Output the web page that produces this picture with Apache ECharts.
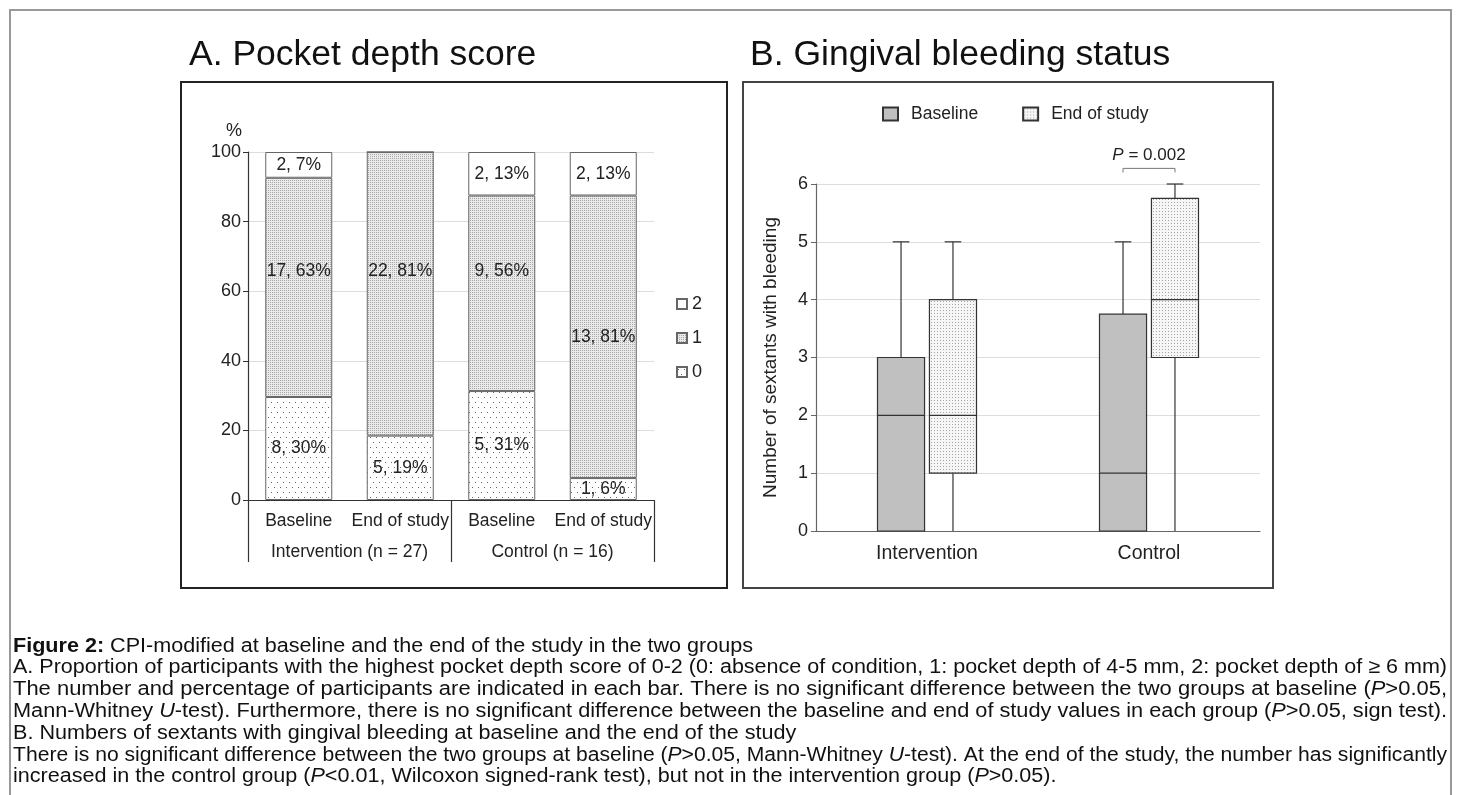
<!DOCTYPE html>
<html><head><meta charset="utf-8">
<script src="https://cdn.jsdelivr.net/npm/echarts@6.0.0/dist/echarts.min.js"></script>
<style>html,body{margin:0;padding:0;background:#fff}#c{width:1458px;height:795px}</style>
</head><body><div id="c"></div>
<script>
// ---------- Panel A data (pocket depth score, % of participants) ----------
const barCategories = ['Baseline', 'End of study', 'Baseline', 'End of study'];
const groupLabels = ['Intervention (n = 27)', 'Control (n = 16)'];
const score0 = [29.6, 18.5, 31.3, 6.3];
const score1 = [63.0, 81.5, 56.2, 81.2];
const score2 = [7.4, 0, 12.5, 12.5];
const count0 = [8, 5, 5, 1];
const pct0 = [30, 19, 31, 6];
const count1 = [17, 22, 9, 13];
const pct1 = [63, 81, 56, 81];
const count2 = [2, 0, 2, 2];
const pct2 = [7, 0, 13, 13];
const scoreNames = ['0', '1', '2'];
// ---------- Panel B data (sextants with bleeding): [min, Q1, median, Q3, max] ----------
const boxCategories = ['Intervention', 'Control'];
const baselineBox = [[0, 0, 2, 3, 5], [0, 0, 1, 3.75, 5]];
const endBox = [[0, 1, 2, 4, 5], [0, 3, 4, 5.75, 6]];
const boxSeriesNames = ['Baseline', 'End of study'];
const pText = 'P = 0.002';
const pGroupIndex = 1;

// layout-only tweak: vertical label shifts (px) of the score-1 labels, as placed in the original
const score1LabelShift = [-16, -23, -22, 0];

const FONT = '"Liberation Sans", Arial, Helvetica, sans-serif';

function makePattern(w, h, bg, dots, dotColor) {
  const cv = document.createElement('canvas');
  cv.width = w; cv.height = h;
  const ctx = cv.getContext('2d');
  ctx.fillStyle = bg; ctx.fillRect(0, 0, w, h);
  ctx.fillStyle = dotColor;
  dots.forEach(d => ctx.fillRect(d[0], d[1], 1, 1));
  return { image: cv, repeat: 'repeat' };
}
const pat0 = makePattern(6, 10, '#ffffff', [[1, 2], [4, 7]], '#666666');
const pat1 = makePattern(2, 2, '#eaeaea', [[0, 0]], '#a8a8a8');
const patEnd = makePattern(3, 3, '#f6f6f6', [[1, 1]], '#a4a4a4');

function labelFmt(counts, pcts) {
  return p => counts[p.dataIndex] ? counts[p.dataIndex] + ', ' + pcts[p.dataIndex] + '%' : '';
}
function barSeries(name, data, color, counts, pcts, shifts) {
  return {
    type: 'bar', name: name, stack: 'a', xAxisIndex: 0, yAxisIndex: 0,
    data: shifts ? data.map((v, i) => ({ value: v, label: { offset: [0, shifts[i]] } })) : data,
    barWidth: 67,
    itemStyle: { color: color, borderColor: '#666', borderWidth: 1 },
    label: { show: true, position: 'inside', fontSize: 17.5, color: '#222', fontFamily: FONT,
      formatter: labelFmt(counts, pcts) },
    emphasis: { disabled: true }
  };
}

function boxRender(side, fill) {
  return function (params, api) {
    const ci = api.value(0);
    const band = api.size([1, 0])[0];
    const cx = api.coord([ci, 0])[0] + side * band * 0.117;
    const bw = band * 0.212, cw = band * 0.075;
    const y = k => api.coord([ci, api.value(k)])[1];
    const yMin = y(1), yQ1 = y(2), yMed = y(3), yQ3 = y(4), yMax = y(5);
    const ls = { stroke: '#333', lineWidth: 1.2 };
    return { type: 'group', children: [
      { type: 'line', shape: { x1: cx, y1: yQ3, x2: cx, y2: yMax }, style: ls },
      { type: 'line', shape: { x1: cx - cw / 2, y1: yMax, x2: cx + cw / 2, y2: yMax }, style: ls },
      { type: 'line', shape: { x1: cx, y1: yQ1, x2: cx, y2: yMin }, style: ls },
      { type: 'rect', shape: { x: cx - bw / 2, y: yQ3, width: bw, height: yQ1 - yQ3 },
        style: { fill: fill, stroke: '#333', lineWidth: 1.2 } },
      { type: 'line', shape: { x1: cx - bw / 2, y1: yMed, x2: cx + bw / 2, y2: yMed }, style: ls }
    ]};
  };
}

// ---------- caption ----------
const CAP_SIZE = 20;
const captionLines = [
  [['b', 'Figure 2:'], ['n', ' CPI-modified at baseline and the end of the study in the two groups']],
  [['n', 'A. Proportion of participants with the highest pocket depth score of 0-2 (0: absence of condition, 1: pocket depth of 4-5 mm, 2: pocket depth of \u2265 6 mm)']],
  [['n', 'The number and percentage of participants are indicated in each bar. There is no significant difference between the two groups at baseline ('], ['i', 'P'], ['n', '>0.05,']],
  [['n', 'Mann-Whitney '], ['i', 'U'], ['n', '-test). Furthermore, there is no significant difference between the baseline and end of study values in each group ('], ['i', 'P'], ['n', '>0.05, sign test).']],
  [['n', 'B. Numbers of sextants with gingival bleeding at baseline and the end of the study']],
  [['n', 'There is no significant difference between the two groups at baseline ('], ['i', 'P'], ['n', '>0.05, Mann-Whitney '], ['i', 'U'], ['n', '-test). At the end of the study, the number has significantly']],
  [['n', 'increased in the control group ('], ['i', 'P'], ['n', '<0.01, Wilcoxon signed-rank test), but not in the intervention group ('], ['i', 'P'], ['n', '>0.05).']]
];
const justified = [false, true, true, true, false, true, false];
const mctx = document.createElement('canvas').getContext('2d');
function segWidth(seg) {
  const st = seg[0] === 'b' ? 'bold ' : seg[0] === 'i' ? 'italic ' : '';
  mctx.font = st + CAP_SIZE + 'px "Liberation Sans"';
  return mctx.measureText(seg[1]).width;
}
const capLeft = 13, capRight = 1447;
const widths = captionLines.map(l => l.reduce((s, g) => s + segWidth(g), 0));
let sc = 0, nj = 0;
widths.forEach((w, i) => { if (justified[i]) { sc += (capRight - capLeft) / w; nj++; } });
const avgScale = sc / nj;
const capRich = {
  n: { fontSize: CAP_SIZE, fontFamily: FONT, color: '#111' },
  b: { fontSize: CAP_SIZE, fontFamily: FONT, color: '#111', fontWeight: 'bold' },
  i: { fontSize: CAP_SIZE, fontFamily: FONT, color: '#111', fontStyle: 'italic' }
};
const captionGraphics = captionLines.map((l, i) => ({
  type: 'text', x: capLeft, y: 646 + 21.8 * i,
  scaleX: justified[i] ? (capRight - capLeft) / widths[i] : avgScale,
  style: { text: l.map(g => '{' + g[0] + '|' + g[1] + '}').join(''), rich: capRich,
    fontSize: CAP_SIZE, fontFamily: FONT, fill: '#111', align: 'left', verticalAlign: 'middle' }
}));

const chart = echarts.init(document.getElementById('c'), null, { renderer: 'canvas' });
const option = {
  animation: false,
  backgroundColor: '#fff',
  textStyle: { fontFamily: FONT },
  grid: [
    { left: 248, top: 152, width: 406, height: 348 },
    { left: 816, top: 184, width: 444, height: 347 }
  ],
  legend: [
    { data: ['2', '1', '0'], orient: 'vertical', left: 671, top: 290, itemWidth: 10, itemHeight: 10,
      itemGap: 16, selectedMode: false, icon: 'rect',
      textStyle: { fontSize: 18, color: '#222', fontFamily: FONT } },
    { data: boxSeriesNames, left: 877, top: 100, itemWidth: 15, itemHeight: 13, itemGap: 44,
      selectedMode: false, icon: 'rect',
      textStyle: { fontSize: 17.5, color: '#222', fontFamily: FONT, padding: [0, 0, 0, 8] } }
  ],
  xAxis: [
    { type: 'category', gridIndex: 0, data: barCategories,
      axisLine: { lineStyle: { color: '#333', width: 1.2 } }, axisTick: { show: false },
      axisLabel: { interval: 0, margin: 12, fontSize: 17.5, color: '#222', fontFamily: FONT } },
    { type: 'category', gridIndex: 0, data: groupLabels, position: 'bottom',
      axisLine: { show: false },
      axisTick: { show: true, length: 62, lineStyle: { color: '#333', width: 1.2 } },
      axisLabel: { interval: 0, margin: 43, fontSize: 17.5, color: '#222', fontFamily: FONT } },
    { type: 'category', gridIndex: 1, data: boxCategories,
      axisLine: { lineStyle: { color: '#666', width: 1.2 } }, axisTick: { show: false },
      axisLabel: { margin: 13, fontSize: 19.5, color: '#222', fontFamily: FONT } }
  ],
  yAxis: [
    { type: 'value', gridIndex: 0, min: 0, max: 100, interval: 20,
      name: '%', nameLocation: 'end', nameGap: 12,
      nameTextStyle: { fontSize: 18, color: '#222', align: 'right', padding: [0, 6, 0, 0], fontFamily: FONT },
      axisLine: { show: true, lineStyle: { color: '#333', width: 1.2 } },
      axisTick: { show: true, length: 5, lineStyle: { color: '#333' } },
      axisLabel: { fontSize: 18, color: '#222', margin: 7, fontFamily: FONT },
      splitLine: { lineStyle: { color: '#dddddd' } } },
    { type: 'value', gridIndex: 1, min: 0, max: 6, interval: 1,
      name: 'Number of sextants with bleeding', nameLocation: 'middle', nameGap: 36, nameRotate: 90,
      nameTextStyle: { fontSize: 19, color: '#222', fontFamily: FONT },
      axisLine: { show: true, lineStyle: { color: '#666', width: 1.2 } },
      axisTick: { show: true, length: 5, lineStyle: { color: '#666' } },
      axisLabel: { fontSize: 18, color: '#222', margin: 8, fontFamily: FONT },
      splitLine: { lineStyle: { color: '#dddddd' } } }
  ],
  series: [
    barSeries(scoreNames[0], score0, pat0, count0, pct0),
    barSeries(scoreNames[1], score1, pat1, count1, pct1, score1LabelShift),
    barSeries(scoreNames[2], score2, '#ffffff', count2, pct2),
    { type: 'custom', name: boxSeriesNames[0], xAxisIndex: 2, yAxisIndex: 1,
      itemStyle: { color: '#c0c0c0', borderColor: '#333', borderWidth: 1 },
      encode: { x: 0, y: [1, 2, 3, 4, 5] },
      data: baselineBox.map((b, i) => [i].concat(b)), renderItem: boxRender(-1, '#c0c0c0') },
    { type: 'custom', name: boxSeriesNames[1], xAxisIndex: 2, yAxisIndex: 1,
      itemStyle: { color: patEnd, borderColor: '#333', borderWidth: 1 },
      encode: { x: 0, y: [1, 2, 3, 4, 5] },
      data: endBox.map((b, i) => [i].concat(b)), renderItem: boxRender(1, patEnd) },
    { type: 'custom', name: 'annotation', xAxisIndex: 2, yAxisIndex: 1, clip: false, silent: true,
      data: [[pGroupIndex, 6.27, 6.5]],
      renderItem: function (params, api) {
        const ci = api.value(0), band = api.size([1, 0])[0];
        const c = api.coord([ci, api.value(1)]);
        const xl = c[0] - band * 0.117, xr = c[0] + band * 0.117, yb = c[1];
        const yt = api.coord([ci, api.value(2)])[1];
        return { type: 'group', children: [
          { type: 'polyline', shape: { points: [[xl, yb + 4], [xl, yb], [xr, yb], [xr, yb + 4]] },
            style: { stroke: '#777', fill: null, lineWidth: 1 } },
          { type: 'text', x: c[0], y: yt,
            style: { text: '{i|' + pText.charAt(0) + '}' + pText.slice(1),
              rich: { i: { fontStyle: 'italic', fontSize: 17, fontFamily: FONT, color: '#222' } },
              fontSize: 17, fontFamily: FONT, fill: '#222', align: 'center', verticalAlign: 'middle' } }
        ]};
      } }
  ],
  graphic: [
    { type: 'rect', shape: { x: 10, y: 10, width: 1441, height: 820 }, style: { fill: null, stroke: '#999', lineWidth: 2 }, silent: true },
    { type: 'rect', shape: { x: 181, y: 82, width: 546, height: 506 }, style: { fill: null, stroke: '#222', lineWidth: 2 }, silent: true },
    { type: 'rect', shape: { x: 743, y: 82, width: 530, height: 506 }, style: { fill: null, stroke: '#444', lineWidth: 2 }, silent: true },
    { type: 'text', x: 189, y: 55, style: { text: 'A. Pocket depth score', fontSize: 35.5, fontFamily: FONT, fill: '#111', align: 'left', verticalAlign: 'middle' } },
    { type: 'text', x: 750, y: 55, style: { text: 'B. Gingival bleeding status', fontSize: 35.5, fontFamily: FONT, fill: '#111', align: 'left', verticalAlign: 'middle' } }
  ].concat(captionGraphics)
};
chart.setOption(option);
</script>
</body></html>
